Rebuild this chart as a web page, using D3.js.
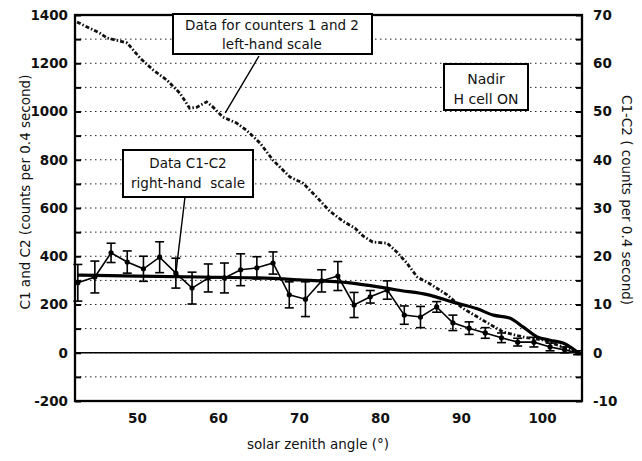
<!DOCTYPE html>
<html>
<head>
<meta charset="utf-8">
<script src="https://cdn.jsdelivr.net/npm/d3@7"></script>
<style>
  body { margin: 0; background: #fff; }
  svg text { font-family: "DejaVu Sans", "Liberation Sans", Arial, sans-serif; fill: #111; }
</style>
</head>
<body>
<div id="chart"></div>
<script>
// counters 1 and 2 (left-hand scale)
const counterAngle = [42.6, 45.4, 46.3, 48.8, 50.4, 52.0, 53.7, 55.3, 56.5, 57.4, 58.6, 59.4, 60.6, 62.3,
  63.5, 65.2, 66.8, 68.9, 70.5, 72.2, 73.8, 75.4, 76.9, 77.9, 79.1, 80.9, 82.1, 83.3, 84.6, 86.2, 88.3,
  90.2, 92.7, 95.2, 97.7, 100.1, 102.6, 104.7];
const counterCounts = [1371, 1325, 1305, 1284, 1221, 1172, 1130, 1076, 1014, 1018, 1040, 1018, 977, 952,
  923, 869, 798, 728, 703, 645, 587, 546, 517, 484, 459, 454, 417, 372, 314, 285, 240,
  185, 135, 86, 65, 53, 24, 0];

// smooth curve (right-hand scale)
const fitAngle = [42.6, 50, 57.8, 65, 70.1, 76.3, 80, 82.1, 86, 89, 92, 94, 96, 97.7, 99.4, 101, 102.6, 104.7];
const fitDiff = [16.1, 15.9, 15.7, 15.5, 15.1, 14.5, 13.6, 13.0, 12.0, 10.5, 9.1, 7.8, 7.2, 5.3, 3.3, 2.6, 2.0, -0.3];

// C1-C2 with error bars (right-hand scale)
const diffAngle = [42.7, 44.8, 46.8, 48.8, 50.8, 52.8, 54.8, 56.8, 58.8, 60.8, 62.8, 64.8, 66.8, 68.8,
  70.8, 72.8, 74.8, 76.8, 78.8, 80.9, 83, 85, 87, 89, 91, 93, 95, 97, 99, 101, 102.8, 104.4];
const diffValue = [14.5, 15.7, 20.7, 18.8, 17.4, 19.8, 16.5, 13.4, 15.5, 15.5, 17.2, 17.6, 18.6, 12.0,
  11.1, 14.9, 15.9, 9.9, 11.6, 13.0, 7.8, 7.4, 9.5, 6.2, 5.1, 4.1, 3.1, 2.2, 2.2, 1.2, 0.6, 0];
const diffError = [3.8, 3.3, 2.0, 2.3, 2.6, 3.2, 3.1, 3.3, 2.9, 3.1, 3.3, 2.3, 2.3, 2.7,
  3.6, 2.3, 3.0, 2.6, 1.3, 1.9, 1.9, 2.2, 1.1, 1.6, 1.3, 1.1, 1.0, 0.8, 1.0, 0.8, 0.6, 0.4];

const leftTicks = [-200, 0, 200, 400, 600, 800, 1000, 1200, 1400];
const rightTicks = [-10, 0, 10, 20, 30, 40, 50, 60, 70];
const angleTicks = [50, 60, 70, 80, 90, 100];
const gridLevels = d3.range(-100, 1400, 100);

const margin = {top: 15, right: 60, bottom: 60, left: 75};
const width = 642 - margin.left - margin.right;
const height = 461 - margin.top - margin.bottom;

const x = d3.scaleLinear().domain([42.35, 104.94]).range([0, width]);
const y = d3.scaleLinear().domain([-200, 1400]).range([height, 0]);
const yR = d3.scaleLinear().domain([-10, 70]).range([height, 0]);

const svg = d3.select("#chart")
  .append("svg")
  .attr("width", 642)
  .attr("height", 461)
  .append("g")
  .attr("transform", `translate(${margin.left},${margin.top})`);

// dotted grid
svg.selectAll(".grid")
  .data(gridLevels)
  .enter().append("line")
  .attr("x1", 0).attr("x2", width)
  .attr("y1", d => y(d)).attr("y2", d => y(d))
  .attr("stroke", "#222")
  .attr("stroke-width", 1)
  .attr("stroke-dasharray", "1.5,3.5");

// zero line
svg.append("line")
  .attr("x1", 0).attr("x2", width)
  .attr("y1", y(0)).attr("y2", y(0))
  .attr("stroke", "#000").attr("stroke-width", 1.6);

// axes
const leftAxis = svg.append("g")
  .call(d3.axisLeft(y).tickValues(d3.range(-200, 1401, 100)).tickSize(-6).tickPadding(7)
    .tickFormat(d => leftTicks.includes(d) ? d : ""));
const rightAxis = svg.append("g")
  .attr("transform", `translate(${width},0)`)
  .call(d3.axisRight(yR).tickValues(d3.range(-10, 71, 5)).tickSize(-6).tickPadding(11)
    .tickFormat(d => rightTicks.includes(d) ? d : ""));
const bottomAxis = svg.append("g")
  .attr("transform", `translate(0,${height})`)
  .call(d3.axisBottom(x).tickValues(angleTicks).tickSize(0).tickPadding(12));

[leftAxis, rightAxis, bottomAxis].forEach(g => {
  g.select(".domain").remove();
  g.selectAll("line").attr("stroke", "#000").attr("stroke-width", 2);
  g.selectAll("text")
    .style("font-size", "13.5px")
    .style("font-weight", "bold")
    .attr("fill", "#111");
});

// frame
svg.append("rect")
  .attr("x", 0).attr("y", 0)
  .attr("width", width).attr("height", height)
  .attr("fill", "none")
  .attr("stroke", "#000")
  .attr("stroke-width", 2.3);

// counters 1 and 2
const counterLine = d3.line()
  .x((d, i) => x(counterAngle[i]))
  .y(d => y(d));
svg.append("path")
  .attr("d", counterLine(counterCounts))
  .attr("fill", "none")
  .attr("stroke", "#111")
  .attr("stroke-width", 2.8)
  .attr("stroke-dasharray", "4,2,1.5,2");

// smooth curve
const fitLine = d3.line()
  .x((d, i) => x(fitAngle[i]))
  .y(d => yR(d))
  .curve(d3.curveMonotoneX);
svg.append("path")
  .attr("d", fitLine(fitDiff))
  .attr("fill", "none")
  .attr("stroke", "#000")
  .attr("stroke-width", 3.2);

// C1-C2
const diffLine = d3.line()
  .x((d, i) => x(diffAngle[i]))
  .y(d => yR(d));
svg.append("path")
  .attr("d", diffLine(diffValue))
  .attr("fill", "none")
  .attr("stroke", "#000")
  .attr("stroke-width", 1.6);

const bars = svg.selectAll(".ebar")
  .data(diffValue)
  .enter().append("g")
  .attr("class", "ebar")
  .attr("stroke", "#000")
  .attr("stroke-width", 1.6);
bars.append("line")
  .attr("x1", (d, i) => x(diffAngle[i])).attr("x2", (d, i) => x(diffAngle[i]))
  .attr("y1", (d, i) => yR(d - diffError[i])).attr("y2", (d, i) => yR(d + diffError[i]));
bars.append("line")
  .attr("x1", (d, i) => x(diffAngle[i]) - 4.5).attr("x2", (d, i) => x(diffAngle[i]) + 4.5)
  .attr("y1", (d, i) => yR(d - diffError[i])).attr("y2", (d, i) => yR(d - diffError[i]));
bars.append("line")
  .attr("x1", (d, i) => x(diffAngle[i]) - 4.5).attr("x2", (d, i) => x(diffAngle[i]) + 4.5)
  .attr("y1", (d, i) => yR(d + diffError[i])).attr("y2", (d, i) => yR(d + diffError[i]));

svg.selectAll(".pt")
  .data(diffValue)
  .enter().append("circle")
  .attr("cx", (d, i) => x(diffAngle[i]))
  .attr("cy", d => yR(d))
  .attr("r", 2.6)
  .attr("fill", "#000");

// annotations (page pixel layout)
const page = d3.select("svg");
function note(x0, y0, x1, y1, lines, baselines, cx, size) {
  page.append("rect")
    .attr("x", x0).attr("y", y0)
    .attr("width", x1 - x0).attr("height", y1 - y0)
    .attr("fill", "#fff")
    .attr("stroke", "#000")
    .attr("stroke-width", 2);
  lines.forEach((t, i) => {
    page.append("text")
      .attr("x", cx).attr("y", baselines[i])
      .attr("text-anchor", "middle")
      .style("font-size", size + "px")
      .attr("xml:space", "preserve")
      .text(t);
  });
}
function leader(px, py, angle, value, scale) {
  page.append("line")
    .attr("x1", px).attr("y1", py)
    .attr("x2", margin.left + x(angle)).attr("y2", margin.top + scale(value))
    .attr("stroke", "#000").attr("stroke-width", 1.4);
}
leader(259, 56, 60.9, 994, y);
leader(185, 197, 54.8, 16.5, yR);
note(173, 14, 372, 54, ["Data for counters 1 and 2", "left-hand scale"], [30, 49], 272, 13.5);
note(123, 150, 253, 197, ["Data C1-C2", "right-hand  scale"], [168, 188], 188, 13.5);
note(444, 64, 528, 110, ["Nadir", "H cell ON"], [84, 104], 486, 14);

// axis titles
page.append("text")
  .attr("transform", "translate(30,192) rotate(-90)")
  .attr("text-anchor", "middle")
  .style("font-size", "13.5px")
  .text("C1 and C2 (counts per 0.4 second)");
page.append("text")
  .attr("transform", "translate(622,200) rotate(90)")
  .attr("text-anchor", "middle")
  .style("font-size", "13.5px")
  .attr("xml:space", "preserve")
  .text("C1-C2 ( counts per 0.4 second)");
page.append("text")
  .attr("x", 318).attr("y", 449)
  .attr("text-anchor", "middle")
  .style("font-size", "13.5px")
  .text("solar zenith angle (°)");
</script>
</body>
</html>
